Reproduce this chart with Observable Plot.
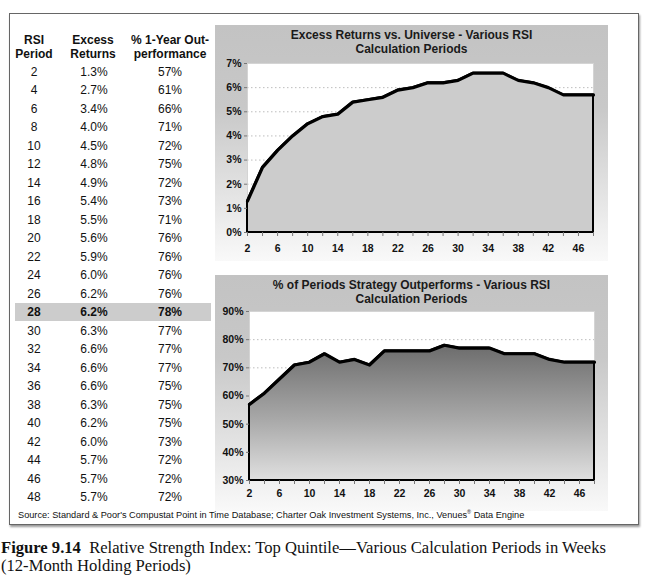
<!DOCTYPE html>
<html>
<head>
<meta charset="utf-8">
<script src="https://cdn.jsdelivr.net/npm/d3@7"></script>
<script src="https://cdn.jsdelivr.net/npm/@observablehq/plot@0.6"></script>
<style>
  body { margin: 0; background: #fff; width: 645px; height: 588px; position: relative; overflow: hidden; font-family: "Liberation Sans", Arial, sans-serif; }
  .abs { position: absolute; }
  #frame { position: absolute; left: 9px; top: 13px; width: 628px; height: 510px; border: 1.5px solid #666; box-shadow: 1px 2px 2px #999; background: #fff; }
  .cell { position: absolute; font-size: 12px; color: #111; transform: translate(-50%, -50%); white-space: nowrap; }
  .hdr { font-weight: bold; line-height: 14px; text-align: center; }
  .panel { position: absolute; left: 215px; width: 393px; height: 236px; background: linear-gradient(to bottom, #c3c3c3 0%, #c8c8c8 35%, #e6e6e6 75%, #f9f9f9 100%); }
  .ptitle { position: absolute; left: 0; width: 393px; text-align: center; font-weight: bold; font-size: 12px; line-height: 14px; color: #1a1a1a; }
  #source { position: absolute; left: 18px; top: 509px; font-size: 9.2px; color: #111; white-space: nowrap; }
  #caption { position: absolute; left: 1px; top: 539px; font-family: "Liberation Serif", "Times New Roman", serif; font-size: 16.6px; line-height: 18px; color: #111; white-space: nowrap; }
</style>
</head>
<body>
<div id="frame"></div>
<div id="table"></div>
<div class="panel" id="p1" style="top:25px"><div class="ptitle" style="top:3px">Excess Returns vs. Universe - Various RSI<br>Calculation Periods</div></div>
<div class="panel" id="p2" style="top:275px"><div class="ptitle" style="top:3px">% of Periods Strategy Outperforms - Various RSI<br>Calculation Periods</div></div>
<div id="source">Source: Standard &amp; Poor's Compustat Point in Time Database; Charter Oak Investment Systems, Inc., Venues<sup style="font-size:5.5px">®</sup> Data Engine</div>
<div id="caption"><b>Figure 9.14</b>&nbsp; Relative Strength Index: Top Quintile—Various Calculation Periods in Weeks<br>(12-Month Holding Periods)</div>
<script>
const periods = [2,4,6,8,10,12,14,16,18,20,22,24,26,28,30,32,34,36,38,40,42,44,46,48];
const excessReturns = [1.3,2.7,3.4,4.0,4.5,4.8,4.9,5.4,5.5,5.6,5.9,6.0,6.2,6.2,6.3,6.6,6.6,6.6,6.3,6.2,6.0,5.7,5.7,5.7];
const outperformance = [57,61,66,71,72,75,72,73,71,76,76,76,76,78,77,77,77,75,75,75,73,72,72,72];
const highlightPeriod = 28;
const xTickLabels = [2,6,10,14,18,22,26,30,34,38,42,46];
const yTicksTop = [0,1,2,3,4,5,6,7];
const yTicksBottom = [30,40,50,60,70,80,90];

// ---- table ----
const table = document.getElementById("table");
const colX = [34, 94, 170];
function cell(x, y, html, cls, bold) {
  const d = document.createElement("div");
  d.className = "cell " + (cls || "");
  d.style.left = x + "px"; d.style.top = y + "px";
  if (bold) d.style.fontWeight = "bold";
  d.innerHTML = html;
  table.appendChild(d);
}
cell(colX[0], 47, "RSI<br>Period", "hdr");
cell(colX[1]-1, 47, "Excess<br>Returns", "hdr");
cell(colX[2], 47, "% 1-Year Out-<br>performance", "hdr");
const rowY0 = 72, rowStep = 18.48;
periods.forEach((p, i) => {
  const y = rowY0 + i * rowStep;
  const hl = p === highlightPeriod;
  if (hl) {
    const b = document.createElement("div");
    b.className = "abs";
    Object.assign(b.style, {left: "15px", top: (y - 9) + "px", width: "196px", height: "18px", background: "#cccccc"});
    table.appendChild(b);
  }
  cell(colX[0], y, String(p), "", hl);
  cell(colX[1], y, excessReturns[i].toFixed(1) + "%", "", hl);
  cell(colX[2], y, outperformance[i] + "%", "", hl);
});

// ---- charts ----
const data = periods.map((p, i) => ({p, ex: excessReturns[i], out: outperformance[i]}));
const font = {fontFamily: "Liberation Sans, Arial, sans-serif", fontSize: "10.5px", fontWeight: "bold"};

const chart1 = Plot.plot({
  width: 393, height: 236,
  marginLeft: 32, marginRight: 15, marginTop: 38, marginBottom: 29,
  style: {background: "transparent", ...font, color: "#111"},
  x: {domain: [2, 48], label: null},
  y: {domain: [0, 7], label: null},
  marks: [
    Plot.frame({fill: "white", stroke: "#d4d4d4"}),
    Plot.ruleY(yTicksTop.slice(1, -1), {stroke: "#bdbdbd", strokeDasharray: "1.5,2.5", strokeWidth: 1}),
    Plot.areaY(data, {x: "p", y: "ex", y1: 0, fill: "#cccccc", stroke: "#000", strokeWidth: 2}),
    Plot.lineY(data, {x: "p", y: "ex", stroke: "#000", strokeWidth: 3.2, strokeLinejoin: "round"}),
    Plot.axisX({ticks: periods, tickSize: 4, tickFormat: () => "", stroke: "#777", label: null}),
    Plot.axisX({ticks: xTickLabels, tickSize: 0, tickPadding: 12, tickFormat: d => String(d), fill: "#111", label: null}),
    Plot.axisY({ticks: yTicksTop, tickSize: 3, tickPadding: 3, tickFormat: d => d + "%", fill: "#111", stroke: "#777", label: null})
  ]
});
chart1.style.position = "absolute"; chart1.style.left = "0"; chart1.style.top = "0";
document.getElementById("p1").appendChild(chart1);

function gradientDefs() {
  const ns = "http://www.w3.org/2000/svg";
  const defs = document.createElementNS(ns, "defs");
  const g = document.createElementNS(ns, "linearGradient");
  g.setAttribute("id", "outGrad");
  g.setAttribute("x1", "0"); g.setAttribute("y1", "0");
  g.setAttribute("x2", "0"); g.setAttribute("y2", "1");
  [["0%", "#6c6c6c"], ["55%", "#a8a8a8"], ["100%", "#e0e0e0"]].forEach(([o, c]) => {
    const s = document.createElementNS(ns, "stop");
    s.setAttribute("offset", o); s.setAttribute("stop-color", c);
    g.appendChild(s);
  });
  defs.appendChild(g);
  return defs;
}

const chart2 = Plot.plot({
  width: 393, height: 236,
  marginLeft: 34, marginRight: 14, marginTop: 36, marginBottom: 31,
  style: {background: "transparent", ...font, color: "#111"},
  x: {domain: [2, 48], label: null},
  y: {domain: [30, 90], label: null},
  marks: [
    gradientDefs,
    Plot.frame({fill: "white", stroke: "#d4d4d4"}),
    Plot.ruleY([70, 80], {stroke: "#bdbdbd", strokeDasharray: "1.5,2.5", strokeWidth: 1}),
    Plot.areaY(data, {x: "p", y: "out", y1: 30, fill: "url(#outGrad)", stroke: "#000", strokeWidth: 2}),
    Plot.lineY(data, {x: "p", y: "out", stroke: "#000", strokeWidth: 3.2, strokeLinejoin: "round"}),
    Plot.axisX({ticks: periods, tickSize: 4, tickFormat: () => "", stroke: "#777", label: null}),
    Plot.axisX({ticks: xTickLabels, tickSize: 0, tickPadding: 9, tickFormat: d => String(d), fill: "#111", label: null}),
    Plot.axisY({ticks: yTicksBottom, tickSize: 3, tickPadding: 3, tickFormat: d => d + "%", fill: "#111", stroke: "#777", label: null})
  ]
});
chart2.style.position = "absolute"; chart2.style.left = "0"; chart2.style.top = "0";
document.getElementById("p2").appendChild(chart2);
</script>
</body>
</html>
